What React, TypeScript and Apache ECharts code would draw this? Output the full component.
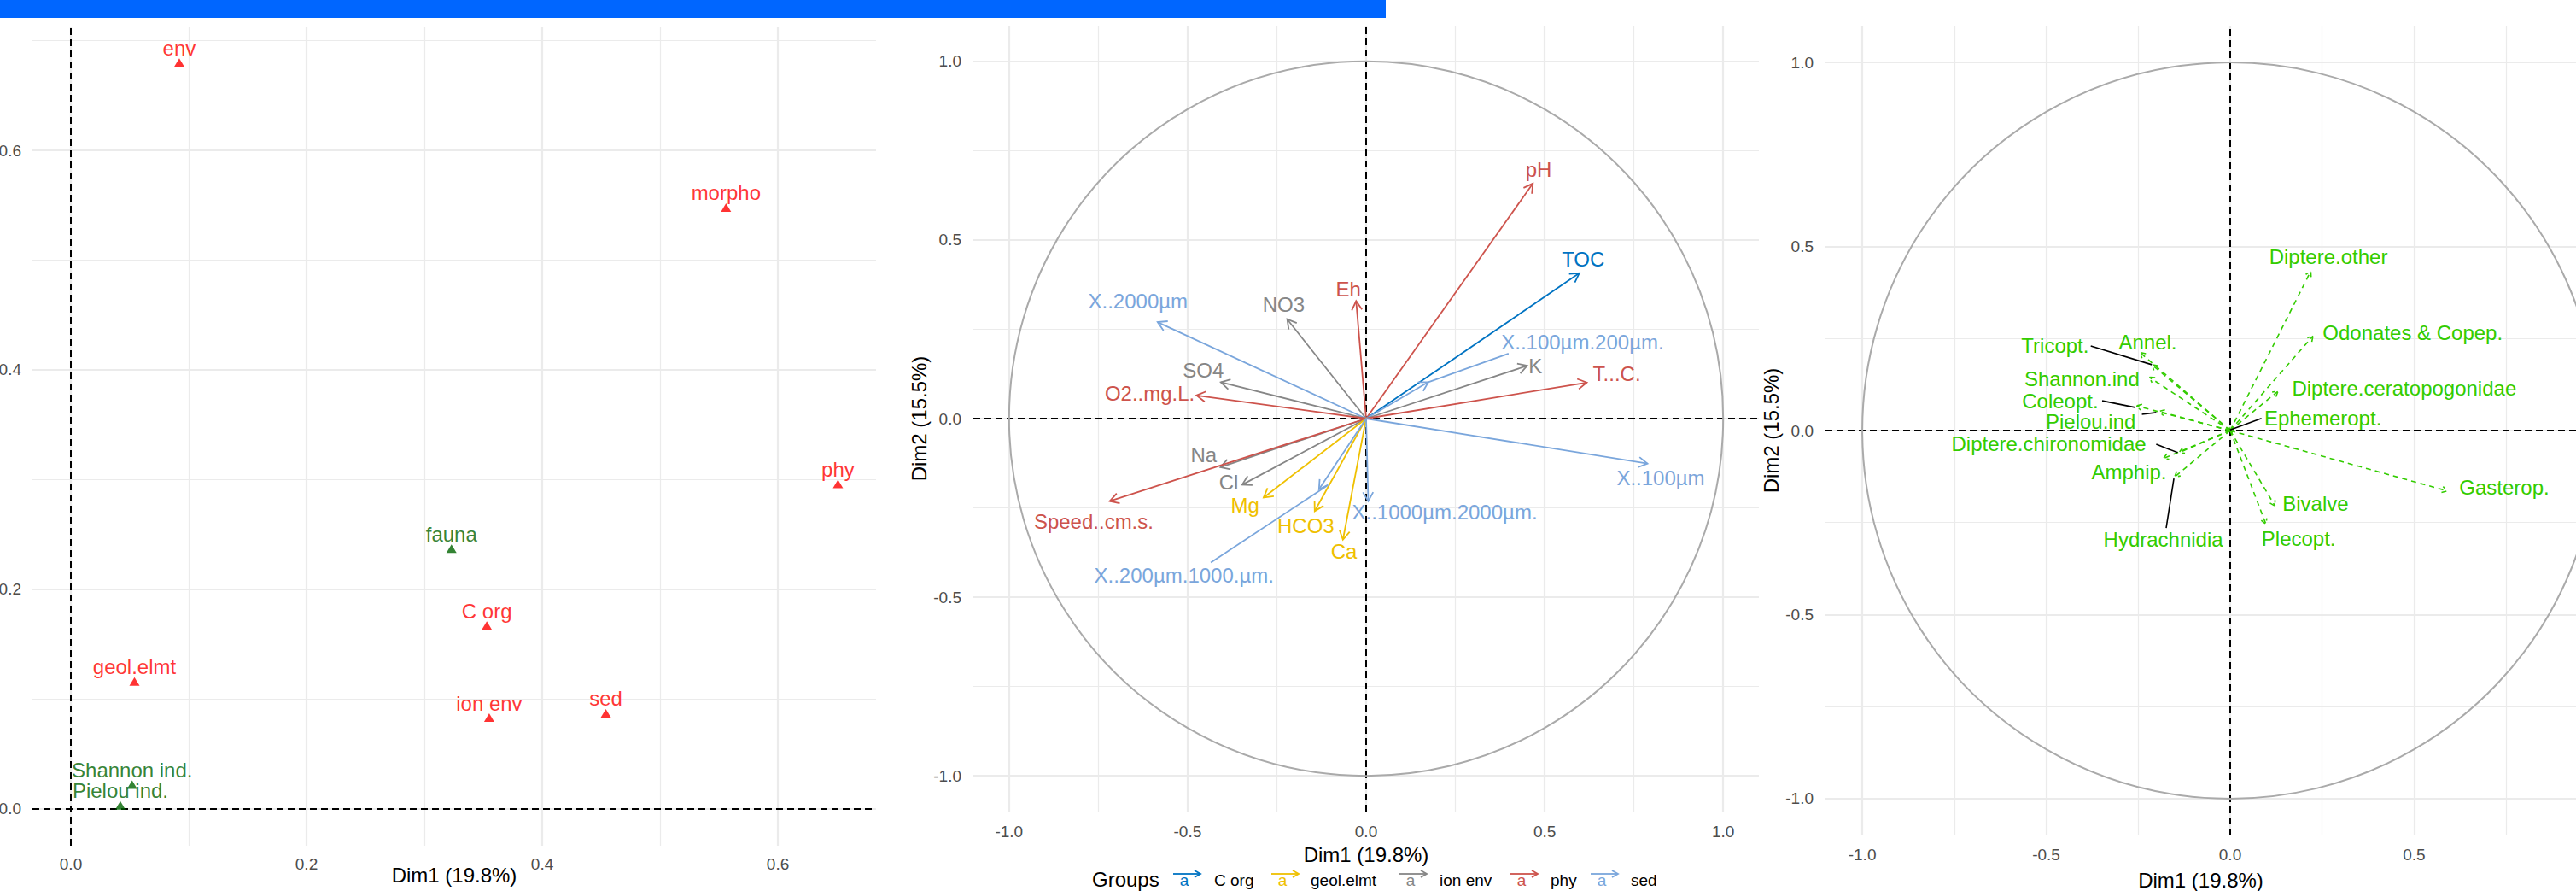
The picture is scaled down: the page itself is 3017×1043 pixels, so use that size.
import React, { useEffect, useRef } from "react";
import * as echarts from "echarts";

const FONT = "'Liberation Sans', Arial, Helvetica, sans-serif";

// ---------- Panel 1: groups representation ----------
const groupNames = ["env", "morpho", "phy", "fauna", "C org", "geol.elmt", "ion env", "sed", "Shannon ind.", "Pielou ind."];
const groupDim1 = [0.092, 0.556, 0.651, 0.323, 0.353, 0.054, 0.355, 0.454, 0.052, 0.042];
const groupDim2 = [0.680, 0.548, 0.296, 0.237, 0.167, 0.116, 0.083, 0.087, 0.022, 0.003];
const groupIsFauna = [0, 0, 0, 1, 0, 0, 0, 0, 1, 1];
const p1XTicks = [0, 0.2, 0.4, 0.6];
const p1YTicks = [0, 0.2, 0.4, 0.6];
const p1XGrid = [0, 0.1, 0.2, 0.3, 0.4, 0.5, 0.6];
const p1YGrid = [0, 0.1, 0.2, 0.3, 0.4, 0.5, 0.6, 0.7];

// ---------- Panel 2: environmental variables ----------
const envGroups = ["C org", "geol.elmt", "ion env", "phy", "sed"];
const envGroupColors = ["#0073C2", "#EFC000", "#868686", "#CD534C", "#7AA6DC"];
const envVars = ["pH", "TOC", "Eh", "NO3", "X..2000µm", "X..100µm.200µm.", "K", "T...C.", "SO4", "O2..mg.L.", "X..100µm", "Na", "Cl", "Speed..cm.s.", "Mg", "HCO3", "Ca", "X..1000µm.2000µm.", "X..200µm.1000.µm."];
const envGroupIdx = [3, 0, 3, 2, 4, 4, 2, 3, 2, 3, 4, 2, 2, 3, 1, 1, 1, 4, 4];
const envDim1 = [0.467, 0.597, -0.028, -0.221, -0.584, 0.174, 0.451, 0.618, -0.407, -0.475, 0.788, -0.408, -0.347, -0.718, -0.287, -0.144, -0.065, 0.006, -0.132];
const envDim2 = [0.658, 0.407, 0.329, 0.278, 0.270, 0.102, 0.148, 0.101, 0.102, 0.065, -0.126, -0.136, -0.185, -0.231, -0.221, -0.259, -0.339, -0.231, -0.198];
const envLabelDim1 = [0.483, 0.608, -0.050, -0.231, -0.639, 0.606, 0.474, 0.702, -0.456, -0.606, 0.825, -0.455, -0.385, -0.763, -0.339, -0.169, -0.062, 0.220, -0.510];
const envLabelDim2 = [0.696, 0.445, 0.363, 0.319, 0.328, 0.215, 0.148, 0.126, 0.136, 0.070, -0.166, -0.102, -0.179, -0.287, -0.243, -0.301, -0.371, -0.262, -0.439];
const envSegVar = [5, 18];
const envSegFromDim1 = [0.399, -0.435];
const envSegFromDim2 = [0.182, -0.403];
const envSegToDim1 = [0.174, -0.108];
const envSegToDim2 = [0.102, -0.187];

// ---------- Panel 3: fauna variables ----------
const faunaVars = ["Diptere.other", "Odonates & Copep.", "Diptere.ceratopogonidae", "Ephemeropt.", "Annel.", "Tricopt.", "Shannon.ind", "Coleopt.", "Pielou.ind", "Diptere.chironomidae", "Amphip.", "Hydrachnidia", "Gasterop.", "Bivalve", "Plecopt."];
const faunaDim1 = [0.219, 0.225, 0.130, 0.010, -0.245, -0.213, -0.220, -0.255, -0.193, -0.139, -0.182, -0.151, 0.590, 0.122, 0.097];
const faunaDim2 = [0.433, 0.257, 0.107, 0.008, 0.212, 0.179, 0.145, 0.067, 0.052, -0.060, -0.076, -0.126, -0.164, -0.205, -0.254];
const faunaLabelDim1 = [0.267, 0.496, 0.473, 0.252, -0.224, -0.476, -0.403, -0.462, -0.379, -0.493, -0.275, -0.182, 0.745, 0.232, 0.186];
const faunaLabelDim2 = [0.472, 0.266, 0.115, 0.033, 0.241, 0.230, 0.141, 0.079, 0.025, -0.035, -0.113, -0.296, -0.155, -0.198, -0.294];
const faunaSegFromDim1 = [0.085, -0.379, -0.348, -0.240, -0.201, -0.174];
const faunaSegFromDim2 = [0.033, 0.230, 0.081, 0.044, -0.037, -0.265];
const faunaSegToDim1 = [0.000, -0.213, -0.259, -0.201, -0.143, -0.153];
const faunaSegToDim2 = [0.002, 0.179, 0.063, 0.049, -0.060, -0.130];

const circTicks = [-1, -0.5, 0, 0.5, 1];
const circGrid = [-1, -0.75, -0.5, -0.25, 0, 0.25, 0.5, 0.75, 1];
const rightXTicks = [-1, -0.5, 0, 0.5];
const rightXGrid = [-1, -0.75, -0.5, -0.25, 0, 0.25, 0.5, 0.75];

const RED = "#FF0000";
const DARKGREEN = "#006400";
const FAUNA_GREEN = "#33CC00";
const GRID = "#EBEBEB";
const TICK_COL = "#4D4D4D";

function gridLines(xs: number[], ys: number[], majX: number[], majY: number[]) {
  const d: any[] = [];
  xs.forEach((v) => d.push({ xAxis: v, lineStyle: { width: majX.includes(v) ? 2.2 : 1.2 } }));
  ys.forEach((v) => d.push({ yAxis: v, lineStyle: { width: majY.includes(v) ? 2.2 : 1.2 } }));
  return d;
}

function baseSeries(idx: number, xs: number[], ys: number[], majX: number[], majY: number[], dash: number[]) {
  return [
    {
      type: "scatter", xAxisIndex: idx, yAxisIndex: idx, data: [[0, 0]], symbolSize: 0, silent: true, z: 1,
      markLine: {
        silent: true, symbol: ["none", "none"], label: { show: false }, z: 1, animation: false,
        lineStyle: { color: GRID, type: "solid" },
        data: gridLines(xs, ys, majX, majY),
      },
    },
    {
      type: "scatter", xAxisIndex: idx, yAxisIndex: idx, data: [[0, 0]], symbolSize: 0, silent: true, z: 2,
      markLine: {
        silent: true, symbol: ["none", "none"], label: { show: false }, z: 3, animation: false,
        lineStyle: { color: "#000000", type: dash, width: 2 },
        data: [{ xAxis: 0 }, { yAxis: 0 }],
      },
    },
  ];
}

function arrowRender(colorOf: (i: number) => string, head: number, width: number, dash: number[] | null) {
  return (params: any, api: any) => {
    const i = params.dataIndex;
    const o = api.coord([0, 0]);
    const p = api.coord([api.value(0), api.value(1)]);
    const ang = Math.atan2(p[1] - o[1], p[0] - o[0]);
    const a1 = ang + Math.PI - Math.PI / 6;
    const a2 = ang + Math.PI + Math.PI / 6;
    const h1 = [p[0] + head * Math.cos(a1), p[1] + head * Math.sin(a1)];
    const h2 = [p[0] + head * Math.cos(a2), p[1] + head * Math.sin(a2)];
    const c = colorOf(i);
    const st: any = { stroke: c, lineWidth: width, fill: "none" };
    if (dash) st.lineDash = dash;
    return {
      type: "group",
      children: [
        { type: "line", shape: { x1: o[0], y1: o[1], x2: p[0], y2: p[1] }, style: { ...st } },
        { type: "polyline", shape: { points: [h1, p, h2] }, style: { ...st } },
      ],
    };
  };
}

function textRender(names: string[], colorOf: (i: number) => string) {
  return (params: any, api: any) => {
    const i = params.dataIndex;
    const p = api.coord([api.value(0), api.value(1)]);
    return {
      type: "text", x: p[0], y: p[1],
      style: {
        text: names[i], fill: colorOf(i), fontSize: 24, fontFamily: FONT,
        align: "center", verticalAlign: "middle", textAlign: "center", textVerticalAlign: "middle",
      },
    };
  };
}

function segRender(colorOf: (i: number) => string, width: number) {
  return (params: any, api: any) => {
    const i = params.dataIndex;
    const a = api.coord([api.value(0), api.value(1)]);
    const b = api.coord([api.value(2), api.value(3)]);
    return { type: "line", shape: { x1: a[0], y1: a[1], x2: b[0], y2: b[1] }, style: { stroke: colorOf(i), lineWidth: width } };
  };
}

function circleRender(params: any, api: any) {
  const o = api.coord([0, 0]);
  const e = api.coord([0, 1]);
  return { type: "circle", shape: { cx: o[0], cy: o[1], r: o[1] - e[1] }, style: { stroke: "#AAAAAA", fill: "none", lineWidth: 2 } };
}

function axisX(idx: number, min: number, max: number, ticks: number[], margin: number, nameGap: number, moveOverlap = true) {
  return {
    gridIndex: idx, type: "value", min, max,
    axisLine: { show: false }, splitLine: { show: false },
    axisTick: { show: true, customValues: ticks, length: 6, lineStyle: { color: "#333333", width: 2 } },
    axisLabel: { customValues: ticks, formatter: (v: number) => v.toFixed(1), color: TICK_COL, fontSize: 19, fontFamily: FONT, margin },
    name: "Dim1 (19.8%)", nameLocation: "middle", nameGap, nameMoveOverlap: moveOverlap,
    nameTextStyle: { color: "#000000", fontSize: 24, fontFamily: FONT },
  };
}

function axisY(idx: number, min: number, max: number, ticks: number[], margin: number, name: string, nameGap: number) {
  return {
    gridIndex: idx, type: "value", min, max,
    axisLine: { show: false }, splitLine: { show: false },
    axisTick: { show: true, customValues: ticks, length: 6, lineStyle: { color: "#333333", width: 2 } },
    axisLabel: { customValues: ticks, formatter: (v: number) => v.toFixed(1), color: TICK_COL, fontSize: 19, fontFamily: FONT, margin },
    name, nameLocation: "middle", nameGap, nameRotate: 90,
    nameTextStyle: { color: "#000000", fontSize: 24, fontFamily: FONT },
  };
}

function legendGraphics() {
  const els: any[] = [];
  const y = 1029;
  els.push({ type: "text", x: 1279, y, style: { text: "Groups", fill: "#000", fontSize: 24, fontFamily: FONT, verticalAlign: "middle", textVerticalAlign: "middle" } });
  const keyX = [1374, 1489, 1639, 1769, 1863];
  const labX = [1422, 1535, 1686, 1816, 1910];
  envGroups.forEach((g, i) => {
    const kx = keyX[i];
    const c = envGroupColors[i];
    els.push({ type: "text", x: kx + 13, y: y + 1, style: { text: "a", fill: c, fontSize: 19, fontFamily: FONT, align: "center", textAlign: "center", verticalAlign: "middle", textVerticalAlign: "middle" } });
    els.push({ type: "line", shape: { x1: kx, y1: y - 6, x2: kx + 32, y2: y - 6 }, style: { stroke: c, lineWidth: 1.8 } });
    els.push({ type: "polyline", shape: { points: [[kx + 25, y - 10], [kx + 32, y - 6], [kx + 25, y - 2]] }, style: { stroke: c, lineWidth: 1.8, fill: "none" } });
    els.push({ type: "text", x: labX[i], y: y + 1, style: { text: g, fill: "#000", fontSize: 19, fontFamily: FONT, verticalAlign: "middle", textVerticalAlign: "middle" } });
  });
  return els;
}

export default function App() {
  const ref = useRef<HTMLDivElement>(null);
  useEffect(() => {
    document.body.style.margin = "0";
    if (!ref.current) return;
    const chart = echarts.init(ref.current, undefined, { renderer: "svg" });

    const p1Xmin = -0.0326, p1Xmax = 0.6833, p1Ymin = -0.0337, p1Ymax = 0.7122;
    // right panel is clipped by the picture's right edge (3017 px)
    const rightXmax = -1.1 + 879 / (948 / 2.2);

    const option: any = {
      animation: false,
      textStyle: { fontFamily: FONT },
      grid: [
        { left: 38, top: 32, width: 988, height: 958, outerBoundsMode: "none", containLabel: false },
        { left: 1140, top: 30, width: 920, height: 920, outerBoundsMode: "none", containLabel: false },
        { left: 2138, top: 30, width: 879, height: 948, outerBoundsMode: "none", containLabel: false },
      ],
      xAxis: [
        axisX(0, p1Xmin, p1Xmax, p1XTicks, 12, 22, false),
        axisX(1, -1.1, 1.1, circTicks, 14, 38),
        axisX(2, -1.1, rightXmax, rightXTicks, 13, 40),
      ],
      yAxis: [
        axisY(0, p1Ymin, p1Ymax, p1YTicks, 13, "", 50),
        axisY(1, -1.1, 1.1, circTicks, 14, "Dim2 (15.5%)", 52),
        axisY(2, -1.1, 1.1, circTicks, 14, "Dim2 (15.5%)", 52),
      ],
      graphic: [
        { type: "rect", shape: { x: 0, y: 0, width: 1623, height: 21 }, style: { fill: "#0066FF" }, z: 100 },
        ...legendGraphics(),
      ],
      series: [
        ...baseSeries(0, p1XGrid, p1YGrid, p1XTicks, p1YTicks, [8, 5]),
        {
          type: "scatter", xAxisIndex: 0, yAxisIndex: 0, symbol: "triangle", symbolSize: [12, 10], z: 10,
          data: groupNames.map((n, i) => {
            const c = groupIsFauna[i] ? DARKGREEN : RED;
            return { name: n, value: [groupDim1[i], groupDim2[i]], itemStyle: { color: c }, label: { color: c } };
          }),
          label: { show: true, formatter: "{b}", position: "inside", offset: [0, -17], fontSize: 24, fontFamily: FONT },
        },

        ...baseSeries(1, circGrid, circGrid, circTicks, circTicks, [8, 5]),
        { type: "custom", xAxisIndex: 1, yAxisIndex: 1, data: [[0, 0]], renderItem: circleRender, z: 5, silent: true },
        {
          type: "custom", xAxisIndex: 1, yAxisIndex: 1, z: 10, silent: true,
          data: envVars.map((_, i) => [envDim1[i], envDim2[i], envGroupIdx[i]]),
          renderItem: arrowRender((i) => envGroupColors[envGroupIdx[i]], 12, 1.8, null),
        },
        {
          type: "custom", xAxisIndex: 1, yAxisIndex: 1, z: 10, silent: true,
          data: envSegVar.map((_, i) => [envSegFromDim1[i], envSegFromDim2[i], envSegToDim1[i], envSegToDim2[i]]),
          renderItem: segRender((i) => envGroupColors[envGroupIdx[envSegVar[i]]], 1.8),
        },
        {
          type: "custom", xAxisIndex: 1, yAxisIndex: 1, z: 11, silent: true,
          data: envVars.map((_, i) => [envLabelDim1[i], envLabelDim2[i]]),
          renderItem: textRender(envVars, (i) => envGroupColors[envGroupIdx[i]]),
        },

        ...baseSeries(2, rightXGrid, circGrid, rightXTicks, circTicks, [8, 5]),
        { type: "custom", xAxisIndex: 2, yAxisIndex: 2, data: [[0, 0]], renderItem: circleRender, z: 5, silent: true },
        {
          type: "custom", xAxisIndex: 2, yAxisIndex: 2, z: 10, silent: true,
          data: faunaVars.map((_, i) => [faunaDim1[i], faunaDim2[i]]),
          renderItem: arrowRender(() => FAUNA_GREEN, 7, 1.6, [6, 5]),
        },
        {
          type: "custom", xAxisIndex: 2, yAxisIndex: 2, z: 10, silent: true,
          data: faunaSegFromDim1.map((_, i) => [faunaSegFromDim1[i], faunaSegFromDim2[i], faunaSegToDim1[i], faunaSegToDim2[i]]),
          renderItem: segRender(() => "#000000", 1.6),
        },
        {
          type: "custom", xAxisIndex: 2, yAxisIndex: 2, z: 11, silent: true,
          data: faunaVars.map((_, i) => [faunaLabelDim1[i], faunaLabelDim2[i]]),
          renderItem: textRender(faunaVars, () => FAUNA_GREEN),
        },
      ],
    };
    chart.setOption(option);
    return () => chart.dispose();
  }, []);
  return <div ref={ref} style={{ position: "absolute", left: 0, top: 0, width: 3017, height: 1043, background: "#ffffff" }} />;
}
